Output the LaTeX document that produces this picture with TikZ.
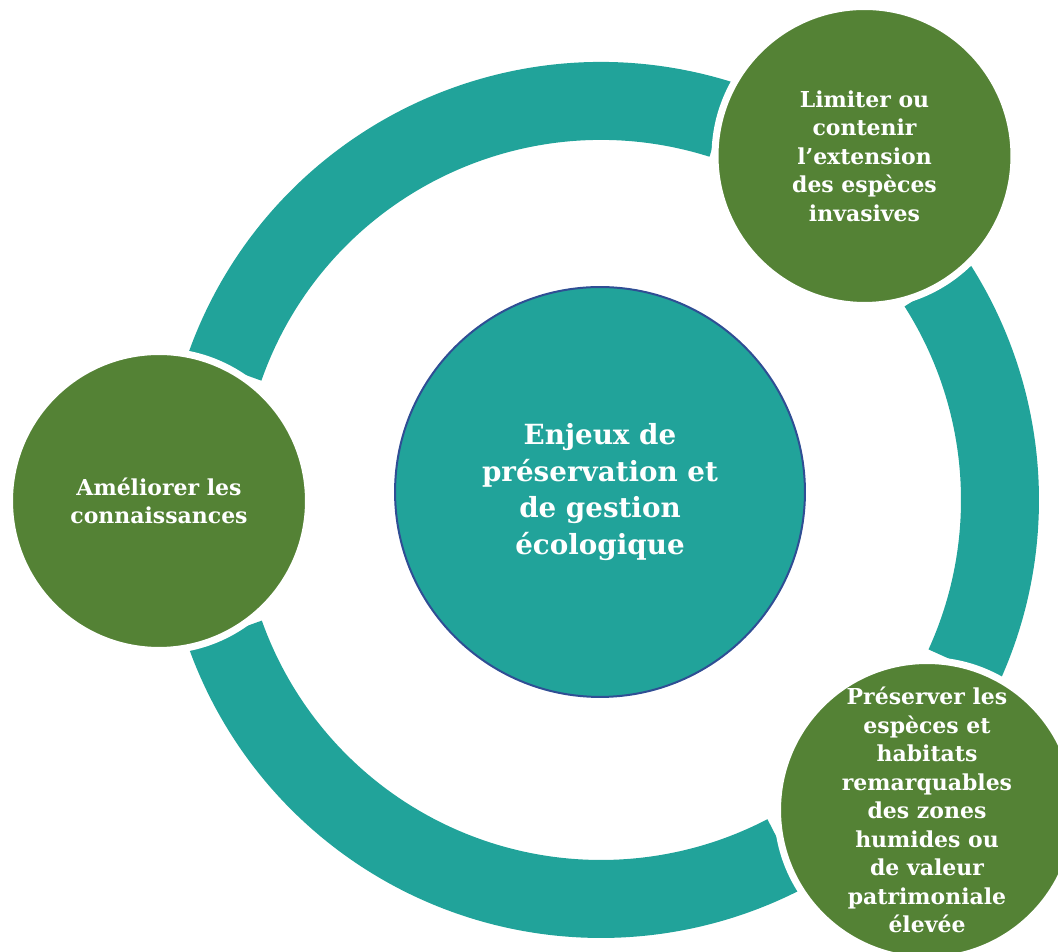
\documentclass[tikz,border=0pt]{standalone}
\usepackage{fontspec}
\setmainfont{DejaVu Serif}
\definecolor{ringteal}{HTML}{21A39A}
\definecolor{leafgreen}{HTML}{548235}
\definecolor{rimblue}{HTML}{2F4E94}
\begin{document}
\begin{tikzpicture}[x=0.02cm,y=0.02cm,
  ring/.style={draw=ringteal,line width=1.56cm},
  bubble/.style={circle,fill=leafgreen,draw=white,line width=0.14cm,minimum size=5.98cm,inner sep=0pt,align=center,text=white,font=\bfseries\fontsize{12.5}{16.2}\selectfont},
  hub/.style={circle,fill=ringteal,draw=rimblue,line width=0.04cm,minimum size=8.2cm,inner sep=0pt,align=center,text=white,font=\bfseries\fontsize{15.8}{21}\selectfont}]
\clip (0,0) rectangle (1058,952);
\coordinate (cyc) at (601,452);
% ring pieces between the bubbles
\draw[ring] (cyc) ++(72.5:399) arc[start angle=72.5,end angle=160.6,radius=399];
\draw[ring] (cyc) ++(199.6:399) arc[start angle=199.6,end angle=297.5,radius=399];
\draw[ring] (cyc) ++(-24.5:399) arc[start angle=-24.5,end angle=32.5,radius=399];
\node[hub] (enjeux) at (600,460) {Enjeux de\\préservation et\\de gestion\\écologique};
\node[bubble] (limiter) at (864.5,796) {Limiter ou\\contenir\\l’extension\\des espèces\\invasives};
\node[bubble] (ameliorer) at (159,451) {Améliorer les\\connaissances};
\node[bubble] (preserver) at (927,142) {Préserver les\\espèces et\\habitats\\remarquables\\des zones\\humides ou\\de valeur\\patrimoniale\\élevée};
\end{tikzpicture}
\end{document}
